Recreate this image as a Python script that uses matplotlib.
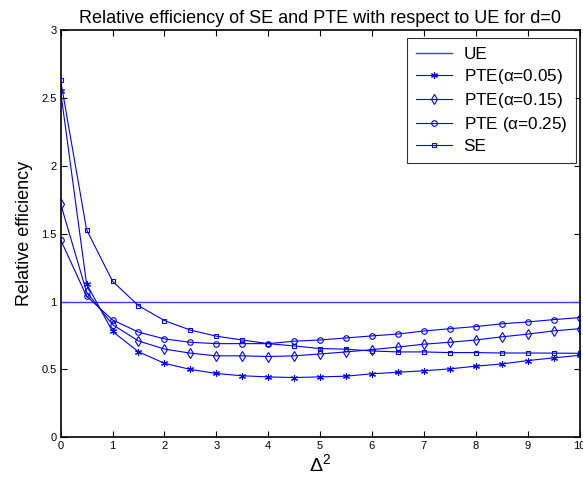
import numpy as np
import matplotlib
matplotlib.use("Agg")
import matplotlib.pyplot as plt

plt.rcParams['font.family'] = ['Liberation Sans', 'DejaVu Sans']
plt.rcParams['mathtext.fontset'] = 'custom'
plt.rcParams['mathtext.rm'] = 'Liberation Sans'
plt.rcParams['mathtext.it'] = 'Liberation Sans'

# noncentrality values Delta^2
delta2 = [0, 0.5, 1, 1.5, 2, 2.5, 3, 3.5, 4, 4.5, 5, 5.5, 6, 6.5,
          7, 7.5, 8, 8.5, 9, 9.5, 10]

pte_005 = [2.55, 1.13, 0.78, 0.63, 0.545, 0.50, 0.47, 0.453, 0.445, 0.44, 0.445,
           0.45, 0.468, 0.479, 0.49, 0.504, 0.524, 0.54, 0.565, 0.585, 0.604]
pte_015 = [1.72, 1.07, 0.83, 0.71, 0.65, 0.62, 0.60, 0.60, 0.595, 0.60, 0.614,
           0.629, 0.646, 0.665, 0.686, 0.70, 0.717, 0.74, 0.76, 0.784, 0.80]
pte_025 = [1.455, 1.04, 0.865, 0.775, 0.725, 0.70, 0.69, 0.69, 0.69, 0.708, 0.717,
           0.732, 0.747, 0.761, 0.783, 0.80, 0.816, 0.836, 0.85, 0.867, 0.882]
se = [2.63, 1.53, 1.15, 0.97, 0.86, 0.79, 0.745, 0.717, 0.69, 0.673, 0.654,
      0.649, 0.636, 0.629, 0.629, 0.624, 0.624, 0.621, 0.621, 0.62, 0.619]
ue = 1.0

fig = plt.figure(figsize=(5.83, 4.88), dpi=100)
ax = fig.add_axes([0.104, 0.104, 0.890, 0.834])

blue = '#0000ff'
ax.plot([0, 10], [ue, ue], color='#3a3aff', lw=1.0, label='UE')
ax.plot(delta2, pte_005, color=blue, lw=0.8, marker=(6, 2, 0), ms=5,
        mew=0.8, label=r'PTE($\alpha$=0.05)')
ax.plot(delta2, pte_015, color=blue, lw=0.8, marker='d', ms=5, mfc='none',
        mew=0.8, label=r'PTE($\alpha$=0.15)')
ax.plot(delta2, pte_025, color=blue, lw=0.8, marker='o', ms=4, mfc='none',
        mew=0.8, label=r'PTE ($\alpha$=0.25)')
ax.plot(delta2, se, color=blue, lw=0.8, marker='s', ms=3.5, mfc='none',
        mew=0.8, label='SE')

ax.set_xlim(0, 10)
ax.set_ylim(0, 3)
ax.set_xticks(range(0, 11))
ax.set_yticks([0, 0.5, 1, 1.5, 2, 2.5, 3])
ax.set_yticklabels(['0', '0.5', '1', '1.5', '2', '2.5', '3'])
ax.tick_params(direction='in', top=True, right=True, labelsize=8,
               length=4, width=0.8, pad=3)
for s in ax.spines.values():
    s.set_linewidth(1.2)

ax.set_title('Relative efficiency of SE and PTE with respect to UE for d=0',
             fontsize=13, pad=5)
ax.set_xlabel(r'$\Delta^2$', fontsize=14, labelpad=1)
ax.set_ylabel('Relative efficiency', fontsize=13, labelpad=6)

leg = ax.legend(loc='upper right', bbox_to_anchor=(0.993, 0.981),
                fontsize=12.3, frameon=True, fancybox=False,
                edgecolor='black', handlelength=2.1, handletextpad=0.7,
                borderaxespad=0, labelspacing=0.3, borderpad=0.5)
leg.get_frame().set_linewidth(0.8)

fig.savefig('out.png', dpi=100)
